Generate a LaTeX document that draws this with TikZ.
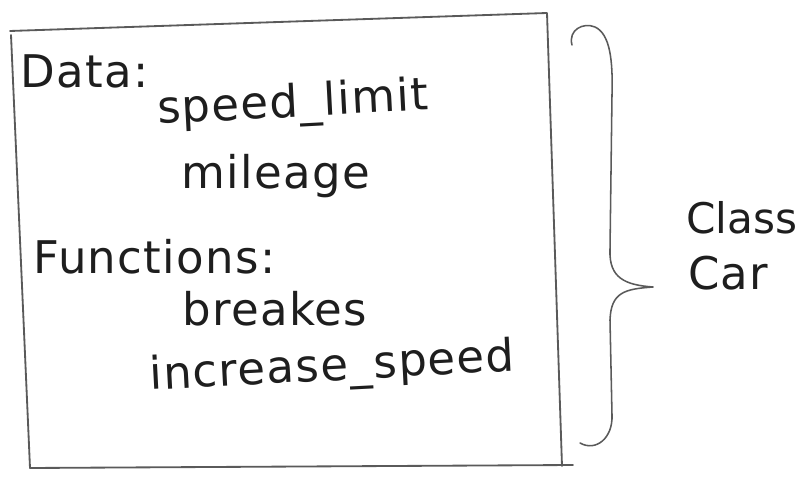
\documentclass[tikz,border=0pt]{standalone}
\usepackage{fontspec}
\setmainfont{DejaVu Sans}
\usepackage{tikz}
\usetikzlibrary{calc}
\definecolor{pen}{HTML}{1E1E1E}
\definecolor{pencil}{HTML}{5A5A5A}

\begin{document}
\begin{tikzpicture}[x=0.025cm, y=-0.025cm,
    hand/.style={draw=pencil, line width=1.3pt, line cap=round, line join=round},
    word/.style={anchor=base west, inner sep=0pt, text=pen,
        font=\fontsize{32}{38}\selectfont\addfontfeature{LetterSpace=3}}]
    \useasboundingbox[fill=white] (0,0) rectangle (811,478);

    % Box
    \coordinate (tl) at (10,31);
    \coordinate (tr) at (547,13);
    \coordinate (br) at (562,466);
    \coordinate (bl) at (30,468);
    \draw[hand] (tl) -- (tr) -- (br);
    \draw[hand] ($(tl)+(1,4)$) -- (bl);
    \draw[hand] (bl) -- (573,465);

    % Data members
    \node[word] (data) at (20,88) {Data:};
    \node[word, rotate=3] (speedlimit) at (158,124) {speed\_limit};
    \node[word] (mileage) at (181,189) {mileage};

    % Member functions
    \node[word] (functions) at (33,274) {Functions:};
    \node[word] (breakes) at (182,326) {breakes};
    \node[word, rotate=3] (increase) at (150,390) {increase\_speed};

    % Brace
    \coordinate (tip) at (653,287);
    \draw[hand, line width=1.1pt] (572,45) .. controls (568,30) and (583,22) .. (595,27)
        .. controls (610,34) and (613,60) .. (612,95) -- (610,250)
        .. controls (609,278) and (625,285) .. (tip)
        .. controls (625,289) and (611,292) .. (610,320) -- (612,415)
        .. controls (613,438) and (596,452) .. (580,443);

    % Class name
    \node[word, font=\fontsize{30}{36}\selectfont] (class) at (686,234) {Class};
    \node[word] (car) at (688,290) {Car};
\end{tikzpicture}
\end{document}
